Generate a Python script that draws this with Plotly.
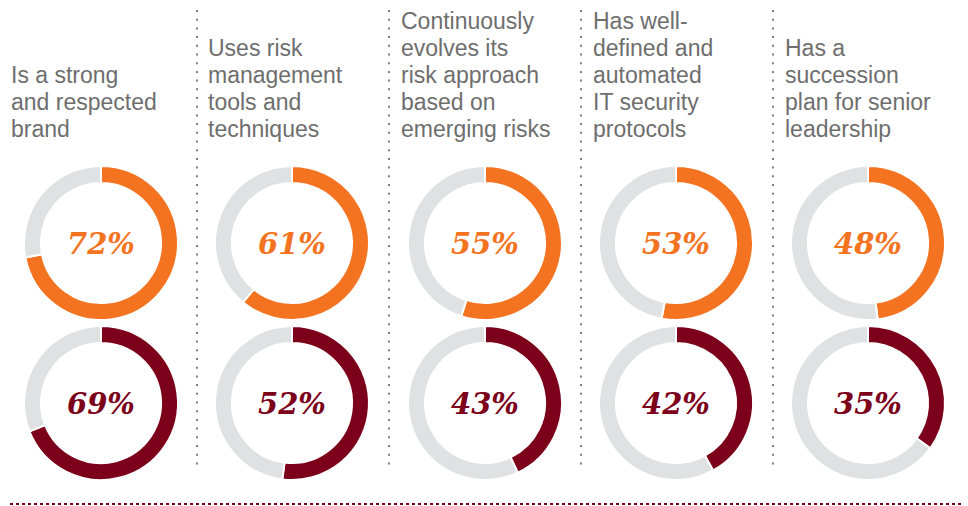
import plotly.graph_objects as go

# ---- data ----
categories = [
    "Is a strong<br>and respected<br>brand",
    "Uses risk<br>management<br>tools and<br>techniques",
    "Continuously<br>evolves its<br>risk approach<br>based on<br>emerging risks",
    "Has well-<br>defined and<br>automated<br>IT security<br>protocols",
    "Has a<br>succession<br>plan for senior<br>leadership",
]
top_values = [72, 61, 55, 53, 48]
bottom_values = [69, 52, 43, 42, 35]

# ---- style ----
W, H = 968, 506
ORANGE = "#F47321"
DARKRED = "#7C0019"
GREY = "#E0E1E3"
TITLE_COLOR = "#6E6E6E"

col_cx = [101, 292, 485, 676, 868]
title_x = [9, 206, 399, 591, 783]
row_cy = [243, 403]
R = 77
sep_x = [197, 389, 581, 773]
LINE_H = 27
LAST_LINE_Y = 129

def px_x(x):
    return x / W

def px_y(y):
    return 1 - y / H

fig = go.Figure()
annotations = []
shapes = []

for i, cat in enumerate(categories):
    for r, (vals, color) in enumerate([(top_values, ORANGE), (bottom_values, DARKRED)]):
        v = vals[i]
        cx, cy = col_cx[i], row_cy[r]
        fig.add_trace(go.Pie(
            values=[v, 100 - v],
            marker=dict(colors=[color, GREY], line=dict(color="white", width=2)),
            hole=0.78,
            sort=False,
            direction="clockwise",
            rotation=0,
            textinfo="none",
            hoverinfo="skip",
            showlegend=False,
            domain=dict(x=[px_x(cx - R), px_x(cx + R)], y=[px_y(cy + R), px_y(cy - R)]),
        ))
        annotations.append(dict(
            x=px_x(cx), y=px_y(cy + 1), xref="paper", yref="paper",
            text=f"<b><i>{v}%</i></b>", showarrow=False,
            xanchor="center", yanchor="middle",
            font=dict(family="DejaVu Serif", size=29, color=color),
        ))
    lines = cat.split("<br>")
    n = len(lines)
    for k, line in enumerate(lines):
        ly = LAST_LINE_Y - (n - 1 - k) * LINE_H
        annotations.append(dict(
            x=px_x(title_x[i]), y=px_y(ly), xref="paper", yref="paper",
            text=line, showarrow=False, xanchor="left", yanchor="middle", align="left",
            font=dict(family="Liberation Sans", size=23, color=TITLE_COLOR),
        ))

for sx in sep_x:
    shapes.append(dict(
        type="line", xref="paper", yref="paper",
        x0=px_x(sx), x1=px_x(sx), y0=px_y(10), y1=px_y(470),
        line=dict(color="#7F7F7F", width=2, dash="2px,6.7px"),
    ))

shapes.append(dict(
    type="line", xref="paper", yref="paper",
    x0=px_x(10), x1=px_x(963), y0=px_y(504), y1=px_y(504),
    line=dict(color=DARKRED, width=2, dash="3px,3px"),
))

fig.update_layout(
    width=W, height=H,
    margin=dict(l=0, r=0, t=0, b=0),
    paper_bgcolor="white", plot_bgcolor="white",
    annotations=annotations, shapes=shapes,
    showlegend=False,
)

fig.write_html("out.html")
